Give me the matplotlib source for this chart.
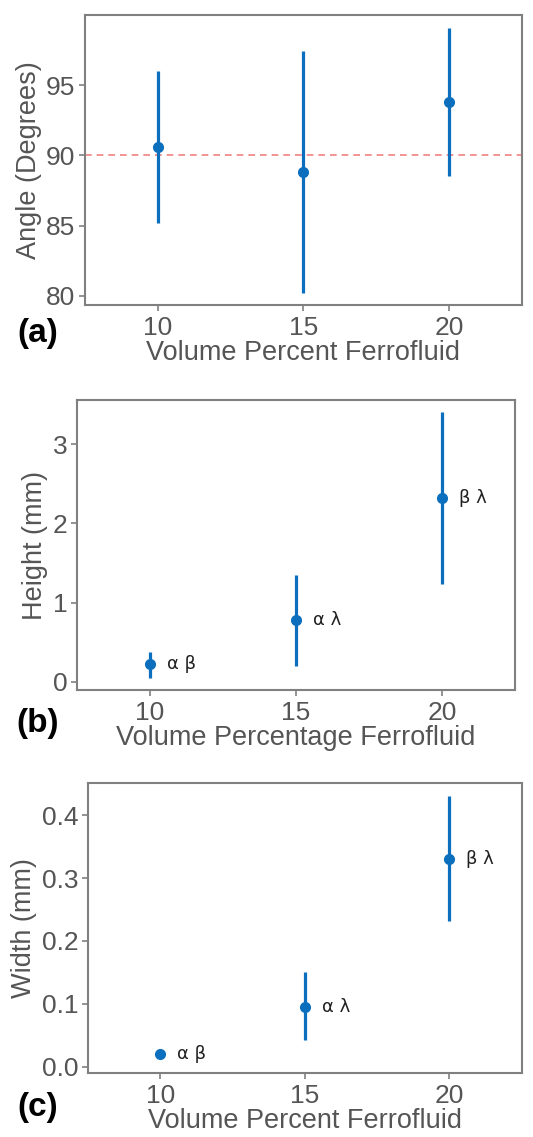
import numpy as np
import matplotlib; matplotlib.use('Agg'); import matplotlib.pyplot as plt

plt.rcParams['font.family'] = ['Liberation Sans', 'DejaVu Sans']

# --- data ---
vol = [10, 15, 20]

angle = [90.57, 88.79, 93.77]
angle_lo = [85.19, 80.21, 88.50]
angle_hi = [95.97, 97.40, 99.06]

height = [0.22, 0.78, 2.32]
height_lo = [0.05, 0.20, 1.23]
height_hi = [0.38, 1.35, 3.41]

width = [0.020, 0.095, 0.331]
width_lo = [0.015, 0.042, 0.232]
width_hi = [0.025, 0.151, 0.430]

groups = ['α β', 'α λ', 'β λ']

BLUE = '#0b6fbd'
GRAY = '#808080'
TXT = '#555555'

fig = plt.figure(figsize=(5.33, 11.37), dpi=100)

panels = [
    # rect, y, lo, hi, ylabel, xlabel, ylim, yticks, fmt, letter, letter_y, annotate
    ([0.1595, 0.7318, 0.8195, 0.255], angle, angle_lo, angle_hi, 'Angle (Degrees)',
     'Volume Percent Ferrofluid', (79.36, 99.98), [80, 85, 90, 95], '{:.0f}', '(a)', 0.707, False),
    ([0.1445, 0.3931, 0.8215, 0.2551], height, height_lo, height_hi, 'Height (mm)',
     'Volume Percentage Ferrofluid', (-0.105, 3.56), [0, 1, 2, 3], '{:.0f}', '(b)', 0.364, True),
    ([0.165, 0.0563, 0.814, 0.255], width, width_lo, width_hi, 'Width (mm)',
     'Volume Percent Ferrofluid', (-0.01, 0.451), [0.0, 0.1, 0.2, 0.3, 0.4], '{:.1f}', '(c)', 0.026, True),
]

for rect, y, lo, hi, ylab, xlab, ylim, yt, fmt, letter, ly, annot in panels:
    ax = fig.add_axes(rect)
    y = np.array(y); lo = np.array(lo); hi = np.array(hi)
    ax.errorbar(vol, y, yerr=[y - lo, hi - y], fmt='o', color=BLUE, ms=7,
                elinewidth=2.3, capsize=0, zorder=3)
    if letter == '(a)':
        ax.axhline(90, color='#f08080', ls=(0, (4, 3)), lw=1.2, zorder=1)
    if annot:
        for xv, yv, g in zip(vol, y, groups):
            ax.annotate(g, (xv, yv), xytext=(12, 0), textcoords='offset points',
                        va='center', ha='left', fontsize=13, color='#222222',
                        family=['DejaVu Sans'])
    ax.set_xlim(7.5, 22.5)
    ax.set_ylim(*ylim)
    ax.set_xticks(vol)
    ax.set_yticks(yt)
    ax.set_yticklabels([fmt.format(v) for v in yt])
    ax.set_ylabel(ylab, fontsize=19.5, color=TXT, labelpad=3)
    ax.set_xlabel(xlab, fontsize=19.5, color=TXT, labelpad=0)
    ax.tick_params(colors=GRAY, labelcolor=TXT, labelsize=19, length=4, width=1.2, pad=3)
    ax.tick_params(axis='x', pad=4)
    for s in ax.spines.values():
        s.set_color(GRAY); s.set_linewidth(1.5)
    fig.text(0.07, ly, letter, fontsize=24, fontweight='bold', ha='center', va='center')

fig.savefig('out.png', dpi=100)
